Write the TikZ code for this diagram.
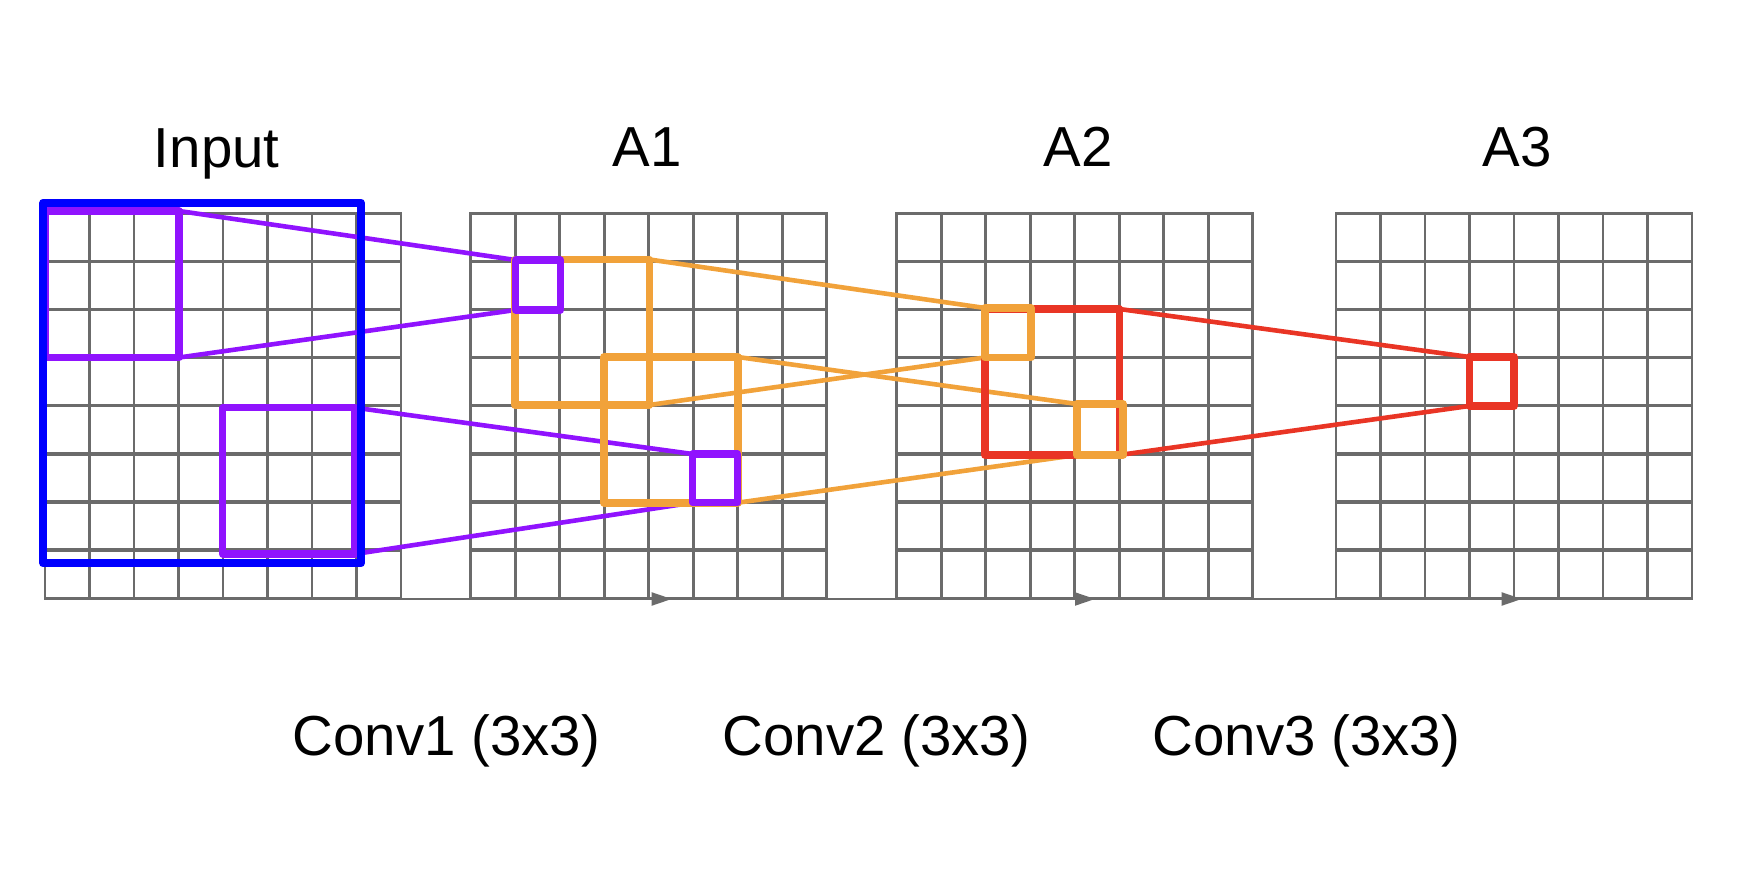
\documentclass[tikz,border=0pt]{standalone}
\usepackage{fontspec}
\setmainfont{Liberation Sans}
\usetikzlibrary{arrows.meta,fit}
\definecolor{gridgray}{HTML}{6B6B6B}
\definecolor{cblue}{HTML}{0000FF}
\definecolor{cpurple}{HTML}{9013FE}
\definecolor{corange}{HTML}{F1A23A}
\definecolor{cred}{HTML}{E93525}
\newcommand\fmgrid[2]{%
  \foreach \i in {0,...,8} \draw[gridv] ({#1+44.5*\i},213.3) -- ({#1+44.5*\i},598.3);
  \foreach \j in {1,...,7} \draw[gridh] (#1,{213.3+48.125*\j}) -- ({#1+356},{213.3+48.125*\j});
  \draw[gridv] (#1,213.3) -- ({#1+356},213.3);
  \draw[gridv] (#1,598.3) -- ({#1+356},598.3);
  \node[fit={(#1,213.3) ({#1+356},598.3)}, inner sep=0pt, outer sep=0pt] (#2) {};
}
\begin{document}
\begin{tikzpicture}[x=0.5pt,y=-0.5pt,
  gridv/.style={gridgray, line width=1.3pt, line cap=rect},
  gridh/.style={gridgray, line width=1.7pt},
  box/.style={draw, rectangle, inner sep=0pt, outer sep=0pt, line join=round},
  bluebox/.style={box, cblue, line width=4pt},
  purplebox/.style={box, cpurple, line width=3.6pt},
  orangebox/.style={box, corange, line width=3.8pt},
  redbox/.style={box, cred, line width=3.8pt},
  link/.style={line width=2.3pt, line cap=round},
  arr/.style={gridgray, line width=1pt, -{Triangle[length=10pt,width=6.5pt]}},
  lbl/.style={font=\fontsize{28.2}{34}\selectfont, anchor=base, inner sep=0pt}
]
\useasboundingbox (0,0) rectangle (1758,882);

% grids
\fmgrid{45}{gIn}
\fmgrid{470.7}{gA1}
\fmgrid{896.7}{gA2}
\fmgrid{1336}{gA3}

% arrows along the bottom
\coordinate (s1) at (223,599);
\coordinate (e1) at (671.7,599);
\coordinate (s2) at (649,599);
\coordinate (e2) at (1095,599);
\coordinate (s3) at (1075,599);
\coordinate (e3) at (1521.7,599);
\draw[arr] (s1) -- (e1);
\draw[arr] (s2) -- (e2);
\draw[arr] (s3) -- (e3);

% boxes (geometry only, drawn below in order)
\path
  node[fit={(45,211) (179,357.5)}, inner sep=0pt, outer sep=0pt] (ip1) {}
  node[fit={(222.7,407.7) (355,554)}, inner sep=0pt, outer sep=0pt] (ip2) {}
  node[fit={(515.5,260) (560.5,310)}, inner sep=0pt, outer sep=0pt] (a1p1) {}
  node[fit={(515,259.5) (649.3,405)}, inner sep=0pt, outer sep=0pt] (a1o1) {}
  node[fit={(604,357) (737.7,502.7)}, inner sep=0pt, outer sep=0pt] (a1o2) {}
  node[fit={(692.5,454) (737.7,502.7)}, inner sep=0pt, outer sep=0pt] (a1p2) {}
  node[fit={(985,308) (1031,357.5)}, inner sep=0pt, outer sep=0pt] (a2o1) {}
  node[fit={(985,309) (1119.3,455)}, inner sep=0pt, outer sep=0pt] (a2r) {}
  node[fit={(1077,404) (1123,455)}, inner sep=0pt, outer sep=0pt] (a2o2) {}
  node[fit={(1469.3,357) (1514,406)}, inner sep=0pt, outer sep=0pt] (a3r) {}
  node[fit={(43.3,202.7) (361,563.3)}, inner sep=0pt, outer sep=0pt] (ib) {};

% connectors
\draw[link, cpurple] (ip1.north east) -- (a1p1.north west);
\draw[link, cpurple] (ip1.south east) -- (a1p1.south west);
\draw[link, cpurple] (ip2.north east) -- (a1p2.north west);
\draw[link, cpurple] (ip2.south east) -- (a1p2.south west);
\draw[link, corange] (a1o1.north east) -- (a2o1.north west);
\draw[link, corange] (a1o1.south east) -- (a2o1.south west);
\draw[link, corange] (a1o2.north east) -- (a2o2.north west);
\draw[link, corange] (a1o2.south east) -- (a2o2.south west);
\draw[link, cred] (a2r.north east) -- (a3r.north west);
\draw[link, cred] (a2r.south east) -- (a3r.south west);

% rectangles
\draw[redbox] (a2r.north west) rectangle (a2r.south east);
\draw[redbox] (a3r.north west) rectangle (a3r.south east);
\draw[orangebox] (a1o1.north west) rectangle (a1o1.south east);
\draw[orangebox] (a1o2.north west) rectangle (a1o2.south east);
\draw[orangebox] (a2o1.north west) rectangle (a2o1.south east);
\draw[orangebox] (a2o2.north west) rectangle (a2o2.south east);
\draw[purplebox] (ip1.north west) rectangle (ip1.south east);
\draw[purplebox] (ip2.north west) rectangle (ip2.south east);
\draw[purplebox] (a1p1.north west) rectangle (a1p1.south east);
\draw[purplebox] (a1p2.north west) rectangle (a1p2.south east);
\draw[bluebox] (ib.north west) rectangle (ib.south east);

% labels
\node[lbl] (tIn) at (216.7,168) {Input};
\node[lbl] (tA1) at (647,167) {A1};
\node[lbl] (tA2) at (1078,167) {A2};
\node[lbl] (tA3) at (1517,167) {A3};
\node[lbl] (tC1) at (446.5,755) {Conv1 (3x3)};
\node[lbl] (tC2) at (876.5,755) {Conv2 (3x3)};
\node[lbl] (tC3) at (1306.5,755) {Conv3 (3x3)};
\end{tikzpicture}
\end{document}
